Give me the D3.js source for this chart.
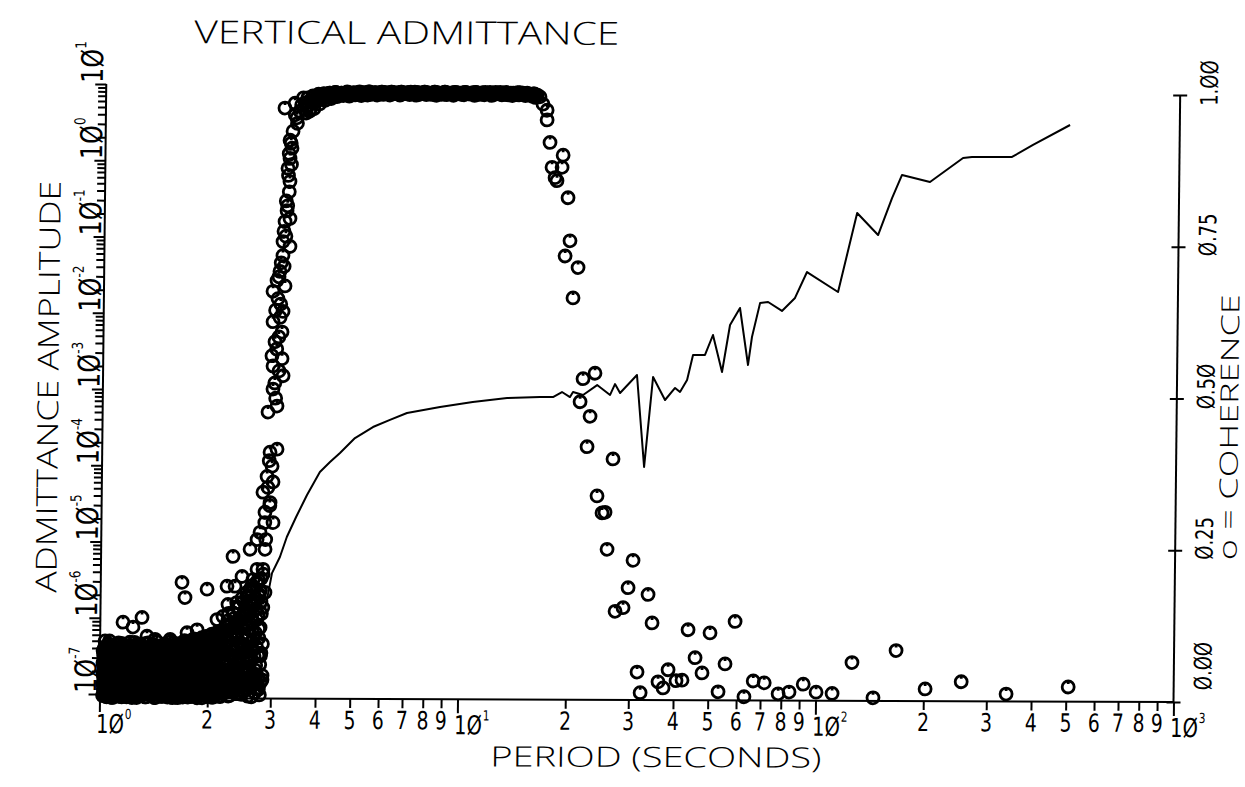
<!DOCTYPE html>
<html>
<head>
<meta charset="utf-8">
<script src="https://cdn.jsdelivr.net/npm/d3@7"></script>
<style>
  html, body { margin: 0; padding: 0; background: #fff; }
  svg { display: block; }
  text { font-family: "Open Sans", "DejaVu Sans", sans-serif; font-weight: 300; fill: #000; }
  text.tick-label { font-family: "DejaVu Sans", sans-serif; font-weight: 400; }
</style>
</head>
<body>
<svg id="chart" width="1245" height="787"></svg>
<script>
// ---- Admittance amplitude (solid line), period in seconds ----
const admPeriod = [2.881,3.006,3.159,3.298,3.496,3.744,4.061,4.331,4.615,5.077,5.695,6.350,7.081,8.755,10.80,13.47,16.64,18.09,19.16,20.18,20.57,21.95,24.01,26.11,26.93,27.84,31.00,32.66,34.39,37.19,39.64,40.93,42.80,44.39,47.94,50.40,53.55,56.20,59.85,63.26,64.77,68.07,71.67,78.40,85.19,91.86,112.3,126.3,144.7,157.9,168.1,201.3,248.6,263.2,340.6,389.5,493.6];
const admAmplitude = [1.29e-6,3.93e-6,6.40e-6,1.17e-5,2.14e-5,4.17e-5,8.36e-5,1.13e-4,1.49e-4,2.34e-4,3.27e-4,4.06e-4,5.01e-4,6.04e-4,7.05e-4,7.97e-4,8.24e-4,8.26e-4,9.61e-4,8.27e-4,9.64e-4,8.81e-4,1.19e-3,8.84e-4,1.23e-3,9.38e-4,1.62e-3,1.01e-4,1.53e-3,7.64e-4,1.10e-3,9.76e-4,1.40e-3,2.99e-3,2.99e-3,5.47e-3,1.79e-3,7.41e-3,1.24e-2,2.22e-3,5.17e-3,1.44e-2,1.49e-2,1.14e-2,1.69e-2,3.70e-2,2.03e-2,0.221,0.114,0.349,0.701,0.569,1.179,1.215,1.222,1.762,3.23];

// ---- Coherence (circles) ----
// short-period band, first set of period columns
const noisePeriod = [1.02,1.035,1.048,1.062,1.077,1.09,1.104,1.119,1.133,1.147,1.16,1.176,1.19,1.205,1.218,1.233,1.248,1.262,1.277,1.292,1.308,1.325,1.342,1.36,1.378,1.396,1.414,1.433,1.452,1.47,1.49,1.51,1.53,1.55,1.57,1.59,1.61,1.632,1.654,1.676,1.698,1.72,1.743,1.766,1.79,1.813,1.837,1.862,1.886,1.91,1.935,1.96,1.986,2.012,2.038,2.064,2.09,2.117,2.144,2.172,2.2];
const noiseCohA = [0.004,0.011,0.002,0.008,0.013,0.001,0.007,0.012,0.003,0.009,0.005,0.014,0.002,0.010,0.006,0.001,0.012,0.008,0.003,0.011,0.005,0.009,0.002,0.013,0.007,0.004,0.010,0.001,0.008,0.012,0.003,0.006,0.011,0.002,0.009,0.005,0.013,0.007,0.001,0.010,0.004,0.012,0.006,0.002,0.009,0.011,0.003,0.008,0.005,0.013,0.001,0.010,0.006,0.004,0.012,0.002,0.009,0.007,0.011,0.003,0.008];
const noiseCohB = [0.024,0.018,0.030,0.021,0.027,0.016,0.029,0.022,0.019,0.031,0.025,0.017,0.028,0.023,0.020,0.032,0.026,0.018,0.029,0.021,0.027,0.016,0.024,0.030,0.019,0.028,0.022,0.025,0.017,0.031,0.020,0.026,0.023,0.029,0.018,0.032,0.021,0.027,0.024,0.016,0.030,0.022,0.019,0.028,0.025,0.017,0.031,0.023,0.026,0.020,0.029,0.018,0.027,0.024,0.021,0.032,0.019,0.026,0.022,0.030,0.025];
const noiseCohC = [0.041,0.036,0.047,0.039,0.044,0.035,0.049,0.042,0.038,0.046,0.034,0.043,0.048,0.037,0.045,0.040,0.035,0.050,0.041,0.038,0.046,0.036,0.043,0.039,0.048,0.034,0.044,0.041,0.047,0.037,0.042,0.049,0.035,0.045,0.040,0.038,0.047,0.043,0.036,0.050,0.039,0.044,0.037,0.048,0.041,0.035,0.046,0.042,0.049,0.038,0.045,0.040,0.047,0.036,0.043,0.050,0.039,0.046,0.041,0.048,0.044];
const noiseCohD = [0.058,0.064,0.053,0.061,0.067,0.055,0.060,0.066,0.052,0.063,0.057,0.068,0.054,0.062,0.059,0.065,0.056,0.061,0.067,0.053,0.060,0.064,0.055,0.068,0.058,0.062,0.054,0.066,0.059,0.063,0.056,0.067,0.061,0.053,0.065,0.058,0.062,0.068,0.055,0.064,0.060,0.066,0.057,0.063,0.068,0.059,0.065,0.061,0.067,0.056,0.064,0.070,0.062,0.068,0.059,0.072,0.066,0.063,0.071,0.067,0.074];
const noiseCohE = [0.078,0.085,0.072,0.094,0.081,0.074,0.088,0.079,0.071,0.090,0.076,0.083,0.073,0.087,0.080,0.075,0.092,0.077,0.084,0.072,0.086,0.079,0.074,0.091,0.082,0.077,0.088,0.073,0.085,0.080,0.076,0.089,0.083,0.078,0.093,0.081,0.087,0.075,0.090,0.084,0.079,0.095,0.086,0.082,0.091,0.088,0.097,0.084,0.093,0.090,0.099,0.087,0.096,0.092,0.104,0.094,0.101,0.098,0.108,0.103,0.112];

// short-period band, second set of period columns
const noisePeriod2 = [1.027,1.041,1.055,1.07,1.083,1.097,1.111,1.126,1.14,1.153,1.168,1.183,1.197,1.211,1.225,1.24,1.255,1.27,1.284,1.3,1.316,1.333,1.351,1.369,1.387,1.405,1.423,1.442,1.461,1.48,1.5,1.52,1.54,1.56,1.58,1.6,1.621,1.643,1.665,1.687,1.709,1.731,1.754,1.778,1.801,1.825,1.849,1.874,1.898,1.922,1.947,1.973,1.999,2.025,2.051,2.077,2.103,2.13,2.158,2.186];
const noiseCohF = [0.009,0.003,0.012,0.006,0.001,0.010,0.004,0.013,0.007,0.002,0.011,0.005,0.008,0.014,0.003,0.010,0.006,0.001,0.012,0.004,0.009,0.013,0.002,0.007,0.011,0.005,0.001,0.010,0.006,0.013,0.003,0.008,0.012,0.004,0.010,0.001,0.007,0.014,0.005,0.009,0.002,0.011,0.006,0.013,0.003,0.008,0.012,0.001,0.010,0.005,0.007,0.014,0.003,0.009,0.011,0.002,0.006,0.012,0.004,0.010];
const noiseCohG = [0.019,0.028,0.022,0.031,0.017,0.025,0.030,0.020,0.027,0.023,0.032,0.018,0.026,0.021,0.029,0.024,0.016,0.030,0.022,0.027,0.019,0.031,0.025,0.018,0.028,0.021,0.032,0.023,0.026,0.017,0.029,0.022,0.027,0.019,0.031,0.024,0.018,0.028,0.021,0.030,0.025,0.017,0.029,0.023,0.020,0.032,0.026,0.019,0.028,0.022,0.031,0.024,0.018,0.027,0.021,0.030,0.025,0.019,0.029,0.023];
const noiseCohH = [0.046,0.039,0.035,0.044,0.050,0.037,0.042,0.048,0.036,0.045,0.040,0.047,0.034,0.043,0.049,0.038,0.046,0.041,0.035,0.048,0.037,0.044,0.050,0.039,0.042,0.047,0.036,0.045,0.040,0.049,0.034,0.043,0.038,0.046,0.041,0.050,0.037,0.044,0.048,0.039,0.045,0.035,0.042,0.049,0.038,0.044,0.040,0.047,0.036,0.043,0.050,0.039,0.046,0.041,0.048,0.037,0.045,0.042,0.049,0.044];
const noiseCohI = [0.062,0.055,0.067,0.059,0.053,0.064,0.057,0.068,0.061,0.054,0.066,0.058,0.063,0.052,0.069,0.060,0.056,0.065,0.062,0.057,0.067,0.053,0.061,0.066,0.058,0.064,0.055,0.068,0.060,0.063,0.057,0.069,0.062,0.056,0.066,0.061,0.053,0.067,0.059,0.065,0.063,0.058,0.068,0.061,0.066,0.071,0.064,0.069,0.062,0.073,0.067,0.075,0.070,0.065,0.078,0.072,0.068,0.080,0.074,0.082];
const noiseCohJ = [0.082,0.075,0.089,0.077,0.086,0.071,0.083,0.091,0.074,0.080,0.087,0.073,0.079,0.092,0.076,0.084,0.078,0.089,0.072,0.081,0.075,0.090,0.083,0.078,0.086,0.074,0.082,0.093,0.077,0.085,0.080,0.074,0.088,0.082,0.076,0.091,0.079,0.085,0.081,0.089,0.085,0.078,0.092,0.087,0.083,0.098,0.089,0.094,0.091,0.100,0.093,0.102,0.097,0.095,0.106,0.099,0.104,0.110,0.101,0.108];

// short-period band, third set of period columns
const noisePeriod3 = [1.024,1.038,1.052,1.066,1.08,1.094,1.108,1.122,1.136,1.15,1.164,1.179,1.194,1.208,1.222,1.236,1.251,1.266,1.281,1.296,1.312,1.329,1.346,1.364,1.382,1.4,1.419,1.438,1.456,1.475,1.495,1.515,1.535,1.555,1.575,1.595,1.616,1.637,1.659,1.681,1.703,1.726,1.749,1.772,1.795,1.819,1.843,1.868,1.892,1.916,1.941,1.967,1.993,2.018,2.044,2.07,2.097,2.124,2.151,2.179];
const noiseCohK = [0.015,0.008,0.020,0.011,0.017,0.006,0.022,0.013,0.009,0.019,0.012,0.021,0.007,0.016,0.010,0.018,0.014,0.006,0.020,0.011,0.017,0.009,0.015,0.021,0.008,0.013,0.019,0.010,0.016,0.007,0.022,0.012,0.018,0.009,0.014,0.020,0.011,0.016,0.007,0.019,0.013,0.018,0.010,0.021,0.015,0.008,0.017,0.012,0.020,0.009,0.016,0.011,0.019,0.014,0.007,0.021,0.013,0.018,0.010,0.015];
const noiseCohL = [0.035,0.042,0.029,0.038,0.033,0.044,0.031,0.040,0.036,0.028,0.041,0.034,0.039,0.030,0.045,0.037,0.032,0.043,0.035,0.040,0.029,0.038,0.044,0.033,0.036,0.041,0.030,0.039,0.034,0.043,0.037,0.031,0.042,0.035,0.040,0.028,0.038,0.045,0.032,0.036,0.041,0.033,0.039,0.044,0.030,0.037,0.042,0.034,0.040,0.036,0.043,0.031,0.038,0.045,0.035,0.040,0.033,0.044,0.037,0.042];
const noiseCohM = [0.054,0.060,0.051,0.058,0.063,0.052,0.057,0.062,0.055,0.059,0.050,0.061,0.056,0.064,0.053,0.058,0.062,0.051,0.060,0.055,0.063,0.057,0.052,0.059,0.064,0.054,0.061,0.056,0.050,0.062,0.058,0.053,0.060,0.055,0.063,0.057,0.051,0.061,0.058,0.054,0.062,0.056,0.060,0.065,0.058,0.063,0.067,0.061,0.066,0.070,0.064,0.069,0.072,0.066,0.071,0.075,0.069,0.074,0.078,0.072];
const noiseCohN = [0.070,0.079,0.068,0.083,0.074,0.066,0.081,0.072,0.077,0.069,0.080,0.073,0.067,0.078,0.084,0.071,0.076,0.082,0.068,0.075,0.070,0.081,0.074,0.067,0.079,0.085,0.072,0.077,0.069,0.083,0.073,0.078,0.070,0.084,0.076,0.071,0.080,0.074,0.068,0.082,0.077,0.072,0.085,0.079,0.074,0.088,0.082,0.078,0.090,0.086,0.092,0.084,0.095,0.089,0.098,0.093,0.100,0.096,0.104,0.099];

// band edge just before the rise
const rampPeriod = [2.235,2.27,2.31,2.355,2.39,2.43,2.475,2.51,2.555,2.59,2.635,2.675,2.715,2.76,2.795,2.84];
const rampCohA = [0.010,0.024,0.005,0.017,0.030,0.008,0.021,0.012,0.027,0.004,0.019,0.033,0.010,0.025,0.006,0.038];
const rampCohB = [0.042,0.058,0.036,0.050,0.064,0.045,0.057,0.040,0.068,0.052,0.061,0.080,0.047,0.071,0.056,0.090];
const rampCohC = [0.078,0.095,0.070,0.088,0.101,0.083,0.115,0.076,0.098,0.121,0.092,0.126,0.108,0.138,0.117,0.150];
const rampCohD = [0.112,0.128,0.104,0.140,0.122,0.150,0.134,0.160,0.145,0.170,0.155,0.182,0.165,0.195,0.178,0.205];
const rampPeriod2 = [2.25,2.29,2.33,2.37,2.41,2.455,2.49,2.53,2.57,2.61,2.655,2.695,2.735,2.775,2.815];
const rampCohE = [0.016,0.004,0.028,0.011,0.020,0.035,0.007,0.024,0.014,0.031,0.003,0.022,0.040,0.015,0.027];
const rampCohF = [0.060,0.048,0.072,0.055,0.082,0.062,0.090,0.052,0.078,0.066,0.095,0.070,0.085,0.100,0.075];
const rampCohG = [0.095,0.112,0.086,0.118,0.106,0.128,0.100,0.136,0.122,0.144,0.113,0.158,0.130,0.168,0.140];
const rampPeriod3 = [2.243,2.28,2.32,2.362,2.40,2.442,2.482,2.52,2.562,2.60,2.645,2.685,2.725,2.768,2.805];
const rampCohH = [0.030,0.012,0.045,0.022,0.008,0.050,0.028,0.060,0.018,0.042,0.065,0.026,0.055,0.035,0.070];
const rampCohI = [0.088,0.072,0.100,0.080,0.110,0.092,0.118,0.084,0.125,0.105,0.135,0.098,0.148,0.115,0.160];
const rampCohJ = [0.120,0.140,0.115,0.132,0.158,0.126,0.165,0.142,0.175,0.150,0.186,0.160,0.192,0.172,0.198];

// isolated points above the band
const scatterPeriod = [1.032,1.157,1.234,1.307,1.351,1.423,1.568,1.686,1.721,1.748,1.864,1.982,2.117,2.200,2.253,2.270,2.337,2.346,2.372,2.406,2.480,2.565,2.606,2.612,2.662,2.724,2.729,2.836,2.870,2.877,2.770,2.840];
const scatterCoherence = [0.094,0.125,0.117,0.133,0.102,0.097,0.097,0.191,0.166,0.108,0.113,0.180,0.130,0.135,0.185,0.155,0.234,0.141,0.185,0.151,0.201,0.168,0.246,0.180,0.196,0.262,0.213,0.213,0.246,0.175,0.018,0.031];

// steep rise near 3 s
const risePeriod = [3.162,3.373,3.419,3.336,3.274,3.318,3.278,3.238,3.282,3.228,3.291,3.189,3.152,3.297,3.154,3.097,3.041,3.203,2.966,3.064,3.168,2.973,3.152,3.015,2.960,3.158,2.982,3.183,2.986,3.068,2.897,3.078,2.943,2.985,2.892,3.006,2.820,2.954,2.861,3.015,2.775,3.43,3.48,3.52,3.38,3.56];
const riseCoherence = [0.973,0.981,0.957,0.935,0.920,0.907,0.890,0.874,0.852,0.804,0.791,0.786,0.753,0.745,0.730,0.704,0.689,0.680,0.671,0.659,0.638,0.621,0.604,0.588,0.565,0.560,0.548,0.532,0.510,0.482,0.472,0.411,0.406,0.383,0.366,0.357,0.340,0.323,0.307,0.290,0.274,0.948,0.968,0.978,0.962,0.990];
const risePeriod2 = [3.30,3.26,3.31,3.25,3.27,3.21,3.24,3.17,3.21,3.12,3.18,3.08,3.12,3.02,3.11,3.09,3.05,3.10,3.02,3.04,2.93,2.91,2.95,2.86,2.88];
const riseCoherence2 = [0.915,0.898,0.880,0.862,0.835,0.820,0.812,0.770,0.762,0.718,0.712,0.695,0.650,0.640,0.628,0.596,0.576,0.540,0.520,0.495,0.392,0.348,0.318,0.290,0.262];

// high-coherence plateau (three interleaved sets of period columns)
const plateauPeriod = [3.60,3.66,3.72,3.78,3.85,3.92,3.99,4.06,4.14,4.22,4.30,4.38,4.46,4.55,4.64,4.73,4.82,4.92,5.02,5.12,5.22,5.33,5.44,5.55,5.66,5.78,5.90,6.02,6.15,6.28,6.41,6.55,6.69,6.83,6.98,7.13,7.28,7.44,7.60,7.77,7.94,8.11,8.29,8.47,8.66,8.85,9.05,9.25,9.46,9.67,9.89,10.1,10.3,10.6,10.8,11.0,11.3,11.5,11.8,12.1,12.3,12.6,12.9,13.2,13.5,13.8,14.1,14.4,14.7,15.0,15.4,15.7,16.0];
const plateauCoherence = [0.982,0.990,0.971,0.993,0.985,0.996,0.988,0.997,0.992,0.998,0.994,0.999,0.995,0.998,0.996,0.999,0.997,0.998,0.999,0.997,0.999,0.998,1.000,0.997,0.999,0.998,1.000,0.999,0.997,1.000,0.998,0.999,1.000,0.998,0.999,0.997,1.000,0.999,0.998,1.000,0.999,0.998,1.000,0.999,0.997,1.000,0.998,0.999,1.000,0.998,0.999,1.000,0.998,0.999,1.000,0.997,0.999,0.998,1.000,0.999,0.998,1.000,0.999,0.997,0.999,0.998,1.000,0.998,0.997,0.999,0.997,0.998,0.996];
const plateauPeriod2 = [3.63,3.69,3.75,3.81,3.88,3.95,4.02,4.10,4.18,4.26,4.34,4.42,4.50,4.60,4.68,4.78,4.87,4.97,5.07,5.17,5.27,5.38,5.49,5.60,5.72,5.84,5.96,6.08,6.21,6.34,6.48,6.62,6.76,6.90,7.05,7.20,7.36,7.52,7.68,7.85,8.02,8.20,8.38,8.56,8.75,8.95,9.15,9.35,9.56,9.78,10.0,10.2,10.45,10.7,10.9,11.15,11.4,11.65,11.95,12.2,12.45,12.75,13.05,13.35,13.65,13.95,14.25,14.55,14.85,15.2,15.55,15.85];
const plateauCoherence2 = [0.965,0.978,0.985,0.972,0.988,0.980,0.991,0.986,0.993,0.989,0.995,0.992,0.996,0.994,0.996,0.993,0.997,0.995,0.996,0.994,0.997,0.995,0.996,0.998,0.995,0.997,0.996,0.998,0.995,0.997,0.998,0.995,0.997,0.998,0.996,0.997,0.995,0.997,0.998,0.996,0.997,0.996,0.995,0.998,0.997,0.996,0.998,0.995,0.998,0.997,0.996,0.998,0.997,0.995,0.998,0.997,0.996,0.998,0.995,0.997,0.998,0.996,0.997,0.996,0.995,0.997,0.996,0.997,0.995,0.996,0.994,0.992];
const plateauPeriod3 = [3.645,3.705,3.765,3.83,3.9,3.97,4.04,4.12,4.2,4.28,4.36,4.44,4.53,4.62,4.71,4.80,4.90,5.0,5.1,5.2,5.3,5.41,5.52,5.63,5.75,5.87,5.99,6.12,6.25,6.38,6.52,6.66,6.8,6.94,7.09,7.24,7.4,7.56,7.73,7.9,8.07,8.25,8.43,8.62,8.81,9.0,9.2,9.4,9.62,9.84,10.05,10.25,10.5,10.75,10.95,11.2,11.45,11.7,12.0,12.25,12.5,12.8,13.1,13.4,13.7,14.0,14.3,14.6,14.9,15.3,15.6,15.9];
const plateauCoherence3 = [0.975,0.968,0.990,0.982,0.994,0.987,0.996,0.991,0.998,0.993,0.999,0.995,0.998,0.997,1.000,0.996,0.999,0.998,1.000,0.997,0.999,1.000,0.998,0.999,0.997,1.000,0.999,0.998,1.000,0.999,0.997,1.000,0.998,0.999,1.000,0.998,0.999,0.997,1.000,0.999,0.998,1.000,0.999,0.997,1.000,0.999,0.998,1.000,0.999,0.997,1.000,0.998,0.999,1.000,0.997,0.999,1.000,0.998,0.999,1.000,0.998,0.999,1.000,0.997,0.999,0.998,1.000,0.999,0.998,0.997,0.998,0.995];

// fall-off beyond 16 s
const fallPeriod = [16.29,16.62,17.07,17.08,17.43,18.98,17.69,18.87,18.05,18.28,19.65,19.96,19.36,21.06,20.43,23.66,21.92,21.54,22.99,22.60,26.73,24.18,25.00,25.49,25.89,30.62,29.72,33.81,28.81,27.38];
const fallCoherence = [0.993,0.981,0.971,0.955,0.918,0.897,0.877,0.877,0.860,0.855,0.827,0.756,0.731,0.712,0.662,0.538,0.529,0.491,0.467,0.417,0.397,0.336,0.308,0.309,0.248,0.230,0.185,0.174,0.152,0.146];

// long-period tail
const tailPeriod = [31.67,32.35,34.76,36.27,37.48,38.66,40.72,42.32,43.84,45.95,48.10,50.5,53.4,55.74,59.29,63.1,66.9,71.8,78.6,84.3,92.3,100.3,111.2,126.1,144.7,167.3,202.2,254.9,340.5,507.4];
const tailCoherence = [0.046,0.012,0.127,0.030,0.020,0.050,0.032,0.033,0.116,0.070,0.045,0.111,0.014,0.060,0.130,0.006,0.032,0.029,0.011,0.014,0.027,0.014,0.012,0.063,0.005,0.083,0.020,0.032,0.012,0.024];

// ---- Axis labelling ----
const periodExponents = ["0", "1", "2", "3"];
const admittanceExponents = ["-7", "-6", "-5", "-4", "-3", "-2", "-1", "0", "1"];
const coherenceTicks = [0, 0.25, 0.5, 0.75, 1];
const coherenceTickLabels = ["Ø.ØØ", "Ø.25", "Ø.5Ø", "Ø.75", "1.ØØ"];

// ---------------------------------------------------------------
const svg = d3.select("#chart");
svg.append("rect").attr("width", 1245).attr("height", 787).attr("fill", "#fff");

// the whole plot sits on a very slightly sheared frame
const g = svg.append("g").attr("transform", "matrix(1,0.0037,-0.011,1,7.68,-0.36)");

const x = d3.scaleLog().domain([1, 1000]).range([99.5, 1173.5]);
const yAdm = d3.scaleLog().domain([1e-7, 10]).range([694, 84]);
const yCoh = d3.scaleLinear().domain([0, 1]).range([698, 91]);

const AXIS_W = 2;
const isDecade = v => Math.abs(Math.log10(v) - Math.round(Math.log10(v))) < 1e-9;

// bottom axis
const gx = g.append("g").attr("transform", "translate(0,698)")
  .call(d3.axisBottom(x).tickValues(x.ticks()).tickFormat("").tickSize(9).tickSizeOuter(0));
gx.select(".domain").remove();
gx.append("line").attr("x1", 98).attr("x2", 1174).attr("stroke", "#000").attr("stroke-width", AXIS_W);
gx.selectAll(".tick line").attr("stroke", "#000").attr("stroke-width", AXIS_W)
  .attr("y2", d => isDecade(d) ? 14 : 9);

// left axis (admittance, log)
const gy = g.append("g").attr("transform", `translate(${x.range()[0]},0)`)
  .call(d3.axisLeft(yAdm).tickValues(yAdm.ticks()).tickFormat("").tickSize(8).tickSizeOuter(0));
gy.select(".domain").remove();
gy.append("line").attr("y1", 698).attr("y2", 84).attr("stroke", "#000").attr("stroke-width", AXIS_W);
gy.selectAll(".tick line").attr("stroke", "#000").attr("stroke-width", AXIS_W)
  .attr("x2", d => isDecade(d) ? -11 : -8);

// right axis (coherence)
const gr = g.append("g").attr("transform", `translate(${x.range()[1]},0)`)
  .call(d3.axisRight(yCoh).tickValues(coherenceTicks).tickFormat("").tickSize(7).tickSizeOuter(0));
gr.select(".domain").remove();
gr.append("line").attr("y1", 698).attr("y2", 91).attr("stroke", "#000").attr("stroke-width", AXIS_W);
gr.selectAll(".tick line").attr("stroke", "#000").attr("stroke-width", AXIS_W).attr("x1", -7);

// bottom tick labels
x.ticks().forEach(v => {
  const e = Math.floor(Math.log10(v) + 1e-9);
  const m = Math.round(v / Math.pow(10, e));
  if (m === 1) {
    const t = g.append("text").attr("class", "tick-label")
      .attr("transform", `translate(${x(v) - 3},733) scale(0.75,1)`).attr("font-size", 26);
    t.append("tspan").text("1Ø");
    t.append("tspan").attr("dy", -14).attr("dx", 1).attr("font-size", 14).text(periodExponents[e]);
  } else {
    g.append("text").attr("class", "tick-label")
      .attr("transform", `translate(${x(v)},728) scale(0.75,1)`)
      .attr("text-anchor", "middle").attr("font-size", 25).text(String(m));
  }
});

// left tick labels (rotated)
admittanceExponents.forEach(ex => {
  const yy = yAdm(Math.pow(10, +ex));
  const t = g.append("text").attr("class", "tick-label")
    .attr("transform", `translate(96,${yy - 1}) rotate(-90) scale(0.8,1)`).attr("font-size", 30);
  t.append("tspan").text("1Ø");
  t.append("tspan").attr("dy", -17).attr("font-size", 15).text(ex);
});

// right tick labels (rotated)
coherenceTicks.forEach((v, i) => {
  const yy = yCoh(v) - (v === 0 ? 36 : 12);
  g.append("text").attr("class", "tick-label")
    .attr("transform", `translate(1211,${yy}) rotate(-90) scale(0.75,1)`)
    .attr("text-anchor", "middle").attr("font-size", 24)
    .text(coherenceTickLabels[i]);
});

// titles
g.append("text").attr("x", 187).attr("y", 43).attr("font-size", 32)
  .attr("textLength", 425).attr("lengthAdjust", "spacingAndGlyphs").text("VERTICAL ADMITTANCE");
g.append("text").attr("x", 491).attr("y", 765).attr("font-size", 28)
  .attr("textLength", 331).attr("lengthAdjust", "spacingAndGlyphs").text("PERIOD (SECONDS)");
g.append("text").attr("transform", "translate(55,593) rotate(-90)").attr("font-size", 29)
  .attr("textLength", 412).attr("lengthAdjust", "spacingAndGlyphs").text("ADMITTANCE AMPLITUDE");
g.append("text").attr("transform", "translate(1235,556) rotate(-90)").attr("font-size", 25)
  .attr("textLength", 266).attr("lengthAdjust", "spacingAndGlyphs").text("o = COHERENCE");

// ---- coherence circles ----
const cohPoints = [];
function addRows(periods, rows) {
  rows.forEach(row => row.forEach((c, i) => { if (i < periods.length) cohPoints.push({ p: periods[i], c }); }));
}
function addPairs(periods, values) {
  periods.forEach((p, i) => cohPoints.push({ p, c: values[i] }));
}
addRows(noisePeriod, [noiseCohA, noiseCohB, noiseCohC, noiseCohD, noiseCohE]);
addRows(noisePeriod2, [noiseCohF, noiseCohG, noiseCohH, noiseCohI, noiseCohJ]);
addRows(noisePeriod3, [noiseCohK, noiseCohL, noiseCohM, noiseCohN]);
addRows(rampPeriod, [rampCohA, rampCohB, rampCohC, rampCohD]);
addRows(rampPeriod2, [rampCohE, rampCohF, rampCohG]);
addRows(rampPeriod3, [rampCohH, rampCohI, rampCohJ]);
addPairs(scatterPeriod, scatterCoherence);
addPairs(risePeriod, riseCoherence);
addPairs(risePeriod2, riseCoherence2);
addPairs(plateauPeriod, plateauCoherence);
addPairs(plateauPeriod2, plateauCoherence2);
addPairs(plateauPeriod3, plateauCoherence3);
addPairs(fallPeriod, fallCoherence);
addPairs(tailPeriod, tailCoherence);

const R = 6;
const marker = `M${R},0A${R},${R} 0 1,1 ${-R},0A${R},${R} 0 1,1 ${R},0M0,${-R}v3`;
g.append("g").selectAll("path").data(cohPoints).join("path")
  .attr("transform", d => `translate(${x(d.p)},${yCoh(d.c)})`)
  .attr("d", marker).attr("fill", "none").attr("stroke", "#000").attr("stroke-width", 2.8);

// ---- admittance line ----
const admData = admPeriod.map((p, i) => ({ p, a: admAmplitude[i] }));
g.append("path").datum(admData)
  .attr("d", d3.line().x(d => x(d.p)).y(d => yAdm(d.a)))
  .attr("fill", "none").attr("stroke", "#000").attr("stroke-width", 2).attr("stroke-linejoin", "round");
</script>
</body>
</html>
